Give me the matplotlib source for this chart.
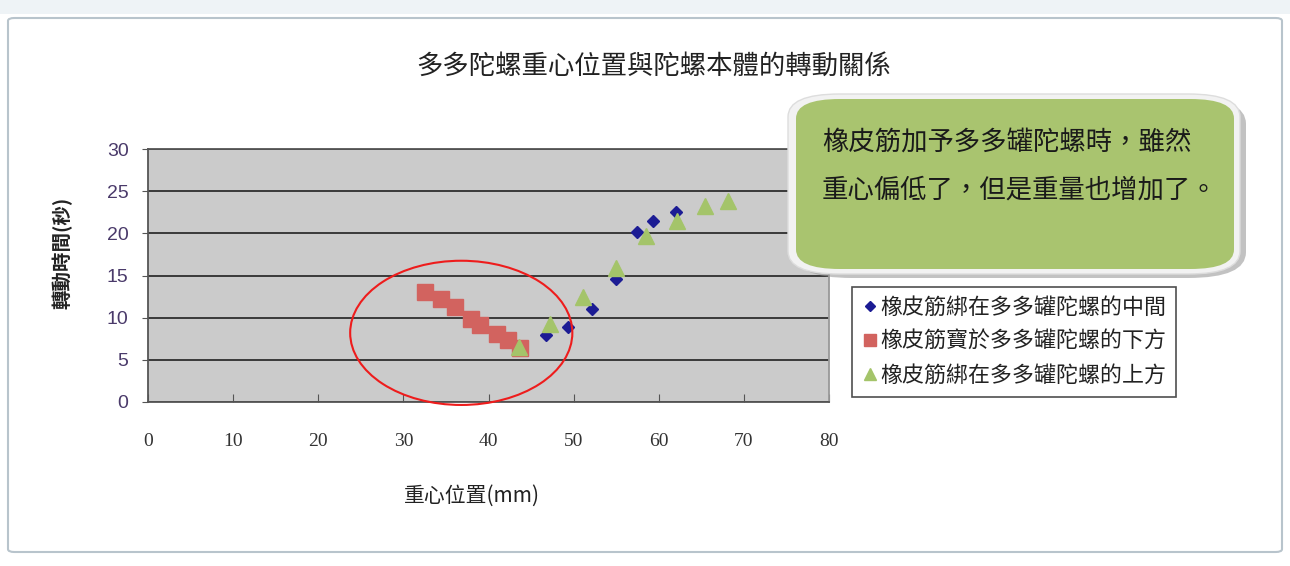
import numpy as np
import matplotlib
matplotlib.use('Agg')
import matplotlib.pyplot as plt
from matplotlib.patches import Ellipse, FancyBboxPatch, Rectangle

plt.rcParams['font.family'] = ['Noto Sans CJK TC', 'DejaVu Sans']

# data
mid_x = [46.8, 49.3, 52.2, 55.0, 57.5, 59.3, 62.0]
mid_y = [7.9, 8.9, 11.0, 14.6, 20.2, 21.5, 22.5]

low_x = [32.5, 34.4, 36.1, 37.9, 39.0, 41.0, 42.3, 43.7]
low_y = [13.1, 12.2, 11.3, 9.8, 9.1, 8.1, 7.4, 6.4]

up_x = [43.6, 47.2, 51.1, 55.0, 58.5, 62.2, 65.4, 68.1]
up_y = [6.5, 9.2, 12.5, 15.9, 19.7, 21.5, 23.2, 23.8]

labels = ['橡皮筋綁在多多罐陀螺的中間', '橡皮筋寶於多多罐陀螺的下方', '橡皮筋綁在多多罐陀螺的上方']
xticks = [0, 10, 20, 30, 40, 50, 60, 70, 80]
yticks = [0, 5, 10, 15, 20, 25, 30]

W, H = 1290, 566
fig = plt.figure(figsize=(W / 100, H / 100), dpi=100)
fig.patch.set_facecolor('white')

# outer chart frame
fig.patches.append(FancyBboxPatch((8 / W, 1 - 552 / H), 1274 / W, 534 / H, transform=fig.transFigure,
                                  boxstyle='round,pad=0,rounding_size=0.005', fill=False,
                                  edgecolor='#b8c4cc', lw=1.5, mutation_aspect=H / W * 2.3))
fig.patches.append(Rectangle((0, 1 - 14 / H), 1, 14 / H, transform=fig.transFigure,
                             facecolor='#eef3f6', edgecolor='none'))

ax = fig.add_axes([148 / W, 1 - 402 / H, 681 / W, 253 / H])
ax.set_facecolor('#cbcbcb')

ax.plot(mid_x, mid_y, 'D', color='#1c1c94', ms=6, label=labels[0], zorder=4)
ax.plot(low_x, low_y, 's', color='#d2635f', ms=11, label=labels[1], zorder=3)
ax.plot(up_x, up_y, '^', color='#a4c46a', ms=11, label=labels[2], zorder=5)

ax.set_xlim(0, 80)
ax.set_ylim(0, 30)
ax.set_xticks(xticks)
ax.set_yticks(yticks)
ax.yaxis.grid(True, color='#3a3a3a', lw=1.4)
ax.set_axisbelow(True)
for s in ax.spines.values():
    s.set_color('#555555')
    s.set_linewidth(1.3)
ax.spines['right'].set_color('#999999')

ax.tick_params(axis='x', direction='in', length=6, pad=22, colors='#555555')
ax.tick_params(axis='y', direction='out', length=4, pad=10, colors='#555555')
for t in ax.get_xticklabels():
    t.set_fontfamily('Liberation Serif')
    t.set_fontsize(14)
    t.set_color('#333333')
for t in ax.get_yticklabels():
    t.set_fontfamily('Liberation Sans')
    t.set_fontsize(14)
    t.set_color('#4a3a6a')

# red circle around the lower series
ax.add_patch(Ellipse((36.8, 8.2), 26.1, 17.1, fill=False, edgecolor='#ee1c1c', lw=1.5,
                     clip_on=False, zorder=6))

fig.text(654 / W, 1 - 66 / H, '多多陀螺重心位置與陀螺本體的轉動關係', ha='center', va='center',
         fontsize=19, color='#222222')
fig.text(62 / W, 1 - 253 / H, '轉動時間(秒)', rotation=90, ha='center', va='center',
         fontsize=14, color='#222222', fontweight='bold')
fig.text(472 / W, 1 - 496 / H, '重心位置(mm)', ha='center', va='center',
         fontsize=15, color='#222222')

leg = ax.legend(loc='upper left', bbox_to_anchor=(852 / W, 1 - 287 / H), bbox_transform=fig.transFigure,
                borderaxespad=0, fancybox=False, frameon=True, fontsize=15.8, handlelength=0.7,
                handletextpad=0.15, labelspacing=0.55, borderpad=0.45, markerscale=0.85)
leg.get_frame().set_edgecolor('#222222')
leg.get_frame().set_linewidth(1.2)
for t in leg.get_texts():
    t.set_color('#222222')
    t.set_fontweight('medium')

# callout box
fig.patches.append(FancyBboxPatch((794 / W, 1 - 278 / H), 452 / W, 180 / H, transform=fig.transFigure,
                                  boxstyle='round,pad=0,rounding_size=0.045', facecolor='#9a9a9a',
                                  edgecolor='none', alpha=0.6, mutation_aspect=H / W * 2.3))
fig.patches.append(FancyBboxPatch((788 / W, 1 - 274 / H), 452 / W, 180 / H, transform=fig.transFigure,
                                  boxstyle='round,pad=0,rounding_size=0.04', facecolor='#f2f2f2',
                                  edgecolor='#dddddd', lw=1, mutation_aspect=H / W * 2.3))
fig.patches.append(FancyBboxPatch((796 / W, 1 - 269 / H), 438 / W, 170 / H, transform=fig.transFigure,
                                  boxstyle='round,pad=0,rounding_size=0.034', facecolor='#a9c46f',
                                  edgecolor='none', mutation_aspect=H / W * 2.3))
fig.text(822 / W, 1 - 142 / H, '橡皮筋加予多多罐陀螺時，雖然', ha='left', va='center',
         fontsize=19, color='#1a1a1a')
fig.text(822 / W, 1 - 190 / H, '重心偏低了，但是重量也增加了。', ha='left', va='center',
         fontsize=19, color='#1a1a1a')

fig.savefig('out.png', dpi=100)
